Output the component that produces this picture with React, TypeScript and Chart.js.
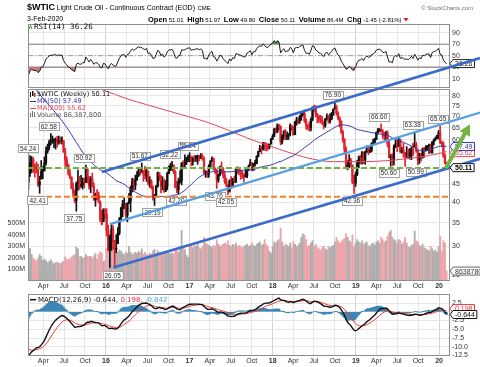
import { useEffect, useRef } from 'react';
import { Chart, registerables } from 'chart.js';

Chart.register(...registerables);

const SANS = "'Liberation Sans', Arial, sans-serif";
const DEJAVU = "'DejaVu Sans', sans-serif";
const MONO = "'DejaVu Sans Mono', monospace";

// ---------------- header / last values ----------------
const symbol = '$WTIC';
const title = 'Light Crude Oil - Continuous Contract (EOD)';
const exchange = 'CME';
const asOf = '3-Feb-2020';
const quoteLabels = ['Open', 'High', 'Low', 'Close', 'Volume', 'Chg'];
const quoteValues = ['51.01', '51.97', '49.80', '50.11', '86.4M', '-1.45 (-2.81%)'];
const lastRsi = 36.26;
const lastMa50 = 57.49;
const lastMa200 = 55.62;
const lastClose = 50.11;
const lastVolume = 86387800;
const lastMacd = -0.644;
const lastSignal = 0.198;
const lastHist = -0.842;

// ---------------- weekly price data (week starting Mondays, from 26-Jan-2015) ----------------
const priorCloses = [93.96, 92.72, 94.37, 96.64, 97.49, 99.88, 100.3, 102.2, 102.59, 102.58, 98.89, 99.46, 101.67, 101.14, 103.74, 104.3, 100.6, 99.76, 99.99, 102.02, 104.35, 102.71, 102.66, 106.91, 107.26, 105.74, 103.77, 100.83, 103.13, 102.09, 97.88, 97.65, 97.35, 93.65, 95.96, 93.29, 92.27, 92.41, 93.54, 89.74, 85.82, 82.75, 81.01, 80.54, 78.65, 75.82, 76.51, 66.15, 65.84, 57.81, 57.13, 54.73, 52.69, 48.36, 48.69, 45.59];

const closes2015 = [48.24, 51.69, 52.78, 50.34, 49.76, 49.61, 44.84, 45.72, 48.87, 49.14, 51.64, 55.74, 57.15, 59.15, 59.39, 59.69, 59.72, 60.3, 59.13, 59.96, 59.61, 59.63, 55.52, 52.74, 50.89, 48.14, 47.12, 43.87, 42.5, 40.45, 45.22, 46.05, 44.63, 44.68, 45.7, 45.54, 49.63, 47.26, 44.6, 46.59, 44.29, 40.74, 41.9, 41.71, 39.97, 35.62, 34.73, 38.1, 37.04];
const highs2015 = [48.29, 54.24, 53.85, 53.56, 51.28, 52.0, 51.28, 47.4, 52.48, 50.47, 53.73, 57.42, 58.41, 60.0, 62.58, 61.6, 60.57, 60.85, 61.4, 61.57, 61.2, 61.26, 59.69, 56.85, 53.76, 51.36, 49.46, 47.22, 45.33, 43.27, 45.62, 49.35, 47.39, 47.71, 46.88, 46.8, 50.92, 49.63, 47.28, 47.27, 48.36, 45.42, 42.49, 43.46, 42.77, 40.4, 37.98, 38.39, 38.39];
const lows2015 = [43.58, 47.36, 48.47, 48.57, 47.1, 48.4, 44.37, 42.41, 46.53, 46.65, 49.0, 51.05, 55.05, 56.26, 58.06, 58.7, 57.1, 56.51, 57.31, 58.36, 58.62, 58.34, 55.35, 50.6, 50.1, 47.72, 46.68, 43.61, 41.35, 39.86, 37.75, 43.21, 43.5, 44.09, 43.59, 43.95, 45.46, 45.36, 43.58, 42.58, 44.17, 40.51, 38.99, 40.56, 39.8, 35.24, 34.53, 35.29, 36.04];

const closes2016 = [33.16, 29.42, 32.19, 33.62, 30.89, 29.44, 29.64, 32.78, 35.92, 38.5, 39.44, 39.46, 36.79, 39.72, 40.36, 43.73, 45.92, 44.66, 46.21, 47.75, 49.33, 48.62, 49.07, 47.98, 47.64, 48.99, 45.41, 45.95, 44.19, 41.6, 41.8, 44.49, 48.52, 47.64, 44.44, 45.88, 43.03, 44.48, 48.24, 50.35, 50.35, 50.85, 48.7, 44.07, 43.41, 45.69, 46.06, 51.68, 51.5, 51.9, 53.02, 53.72];
const highs2016 = [38.39, 34.5, 32.35, 34.82, 34.4, 31.24, 32.4, 33.93, 36.25, 38.72, 40.54, 41.2, 39.72, 39.9, 42.42, 44.49, 46.78, 46.67, 47.75, 48.86, 50.21, 50.05, 51.67, 49.25, 50.52, 49.69, 49.05, 47.27, 46.35, 44.56, 42.14, 44.63, 48.75, 48.5, 47.54, 47.24, 46.51, 46.08, 48.68, 50.74, 51.6, 52.22, 51.05, 49.18, 45.95, 46.8, 49.2, 51.78, 52.42, 54.51, 53.65, 54.37];
const lows2016 = [32.1, 29.13, 26.19, 29.25, 29.55, 26.05, 28.85, 30.56, 32.36, 35.36, 36.43, 38.32, 35.76, 35.24, 39.7, 37.61, 42.77, 43.03, 43.4, 46.23, 47.28, 47.75, 48.57, 45.83, 46.57, 45.83, 44.77, 44.07, 43.61, 40.57, 39.19, 41.36, 44.14, 46.0, 42.52, 43.36, 42.67, 42.88, 43.44, 48.2, 49.14, 49.2, 48.2, 44.06, 42.56, 42.2, 45.34, 44.82, 49.9, 50.31, 51.07, 52.08];

const closes2017 = [53.99, 52.37, 53.22, 53.17, 53.83, 53.86, 53.4, 53.99, 53.33, 48.49, 48.78, 47.97, 50.6, 52.24, 53.18, 49.62, 49.33, 46.22, 47.84, 50.33, 49.8, 47.66, 45.83, 44.74, 43.01, 46.04, 44.23, 46.54, 45.77, 49.71, 49.58, 48.82, 48.51, 47.87, 47.29, 47.48, 49.89, 50.66, 51.67, 49.29, 51.45, 51.47, 53.9, 55.64, 56.74, 56.55, 58.95, 58.36, 57.36, 57.3, 58.47, 60.42];
const highs2017 = [55.24, 54.0, 53.75, 54.33, 54.2, 54.39, 54.25, 54.94, 54.78, 53.76, 49.18, 49.0, 51.08, 52.49, 53.76, 53.37, 50.07, 49.47, 48.09, 50.65, 52.0, 50.11, 48.66, 46.76, 44.89, 46.35, 47.32, 46.75, 47.44, 49.81, 50.43, 50.22, 49.42, 49.0, 48.14, 49.42, 50.26, 51.0, 52.86, 51.88, 51.56, 52.66, 54.2, 55.78, 57.92, 57.63, 59.05, 59.05, 58.72, 58.47, 58.4, 60.51];
const lows2017 = [52.11, 50.71, 50.91, 52.04, 52.2, 51.22, 52.31, 53.12, 52.59, 48.22, 47.09, 47.01, 47.06, 49.83, 52.13, 49.32, 48.18, 43.76, 45.55, 47.5, 48.17, 46.87, 45.2, 44.3, 42.05, 42.72, 43.8, 44.25, 45.4, 45.46, 48.15, 47.84, 46.46, 46.71, 45.58, 47.1, 46.96, 49.13, 50.78, 49.1, 49.25, 50.71, 51.35, 53.7, 55.62, 54.76, 56.17, 56.09, 55.84, 56.13, 56.64, 58.46];

const closes2018 = [61.44, 64.3, 63.37, 66.14, 65.45, 59.2, 61.68, 63.55, 61.25, 62.04, 62.34, 65.88, 64.94, 62.06, 67.39, 68.38, 68.1, 69.72, 70.7, 71.28, 67.88, 65.81, 65.74, 65.06, 68.58, 74.15, 73.8, 71.01, 70.46, 68.69, 68.49, 67.63, 65.91, 68.72, 69.8, 67.75, 68.99, 70.78, 73.25, 74.34, 71.34, 69.12, 67.59, 63.14, 60.19, 56.46, 50.42, 50.93, 52.61, 51.2, 45.59, 45.33, 47.96];
const highs2018 = [62.21, 64.77, 64.89, 66.66, 66.44, 65.8, 62.12, 63.73, 64.24, 63.3, 62.52, 66.66, 66.04, 65.49, 67.71, 69.56, 69.31, 70.45, 71.89, 72.3, 72.9, 68.8, 66.27, 67.55, 69.25, 74.46, 75.27, 75.0, 71.36, 70.3, 70.43, 69.92, 67.66, 69.0, 71.08, 70.45, 71.24, 71.8, 73.45, 76.9, 75.33, 72.21, 69.81, 68.05, 63.92, 60.57, 57.35, 52.45, 54.55, 53.27, 50.99, 47.71, 48.75];
const lows2018 = [60.1, 61.28, 62.8, 62.88, 64.2, 58.07, 58.45, 60.31, 60.05, 60.15, 60.2, 61.56, 64.0, 61.84, 62.08, 66.05, 66.64, 66.84, 68.14, 70.12, 67.2, 64.36, 64.08, 63.59, 63.61, 67.95, 72.23, 69.62, 67.03, 67.25, 67.01, 66.4, 64.43, 65.15, 68.4, 66.9, 66.89, 68.43, 70.38, 73.4, 70.46, 68.47, 65.33, 62.62, 59.27, 54.75, 50.15, 49.41, 50.08, 50.35, 45.14, 42.36, 44.35];

const closes2019 = [51.59, 53.8, 53.69, 55.26, 52.72, 55.59, 57.26, 55.8, 56.07, 58.52, 59.04, 60.14, 63.08, 63.89, 64.0, 63.3, 61.94, 61.66, 62.76, 58.63, 53.5, 53.99, 52.51, 57.43, 58.47, 57.51, 60.21, 55.63, 56.2, 55.66, 54.5, 54.87, 54.17, 55.1, 56.52, 54.85, 58.09, 55.91, 52.81, 54.7, 53.78, 56.66, 56.2, 57.24, 57.72, 57.77, 55.17, 59.2, 60.07, 60.44, 61.72, 63.05];
const highs2019 = [52.58, 54.05, 54.24, 55.75, 55.48, 55.85, 57.81, 57.73, 57.31, 58.95, 60.39, 60.7, 63.2, 64.77, 64.6, 66.6, 64.24, 63.0, 63.5, 63.71, 59.45, 54.62, 54.84, 58.15, 59.93, 59.85, 60.94, 60.35, 57.23, 58.82, 55.33, 57.47, 56.6, 56.77, 57.39, 58.76, 63.38, 59.17, 56.05, 55.09, 54.94, 56.95, 57.15, 57.88, 57.9, 58.44, 58.46, 59.4, 60.38, 61.2, 61.94, 63.84];
const lows2019 = [47.56, 50.15, 51.33, 51.23, 51.41, 51.23, 55.28, 54.52, 55.22, 55.5, 58.2, 58.23, 60.15, 62.3, 63.32, 63.0, 60.6, 60.04, 60.23, 57.34, 53.38, 50.6, 50.72, 51.01, 57.05, 55.63, 57.41, 55.22, 55.06, 53.59, 50.52, 53.5, 53.14, 52.97, 52.81, 54.13, 57.36, 55.38, 50.99, 51.44, 52.3, 53.28, 53.53, 55.76, 56.05, 55.0, 55.15, 55.13, 58.03, 59.76, 60.49, 60.38];

const closes2020 = [59.04, 58.54, 54.19, 51.56, 50.11];
const highs2020 = [65.65, 59.6, 59.28, 54.77, 51.97];
const lows2020 = [58.55, 57.36, 53.53, 51.31, 49.8];

// weekly volume, millions
const volumes2015 = [270, 285, 230, 200, 185, 175, 200, 230, 215, 180, 190, 175, 160, 170, 185, 165, 150, 160, 165, 155, 150, 160, 175, 210, 190, 185, 195, 210, 220, 230, 295, 280, 210, 215, 200, 205, 230, 215, 210, 215, 200, 220, 240, 190, 235, 255, 245, 170, 175];
const volumes2016 = [280, 300, 330, 270, 300, 340, 260, 250, 270, 260, 240, 230, 250, 240, 300, 250, 230, 240, 250, 240, 260, 250, 280, 235, 250, 230, 225, 240, 235, 265, 275, 235, 265, 250, 245, 235, 250, 245, 260, 255, 235, 245, 235, 280, 265, 250, 300, 440, 300, 275, 225, 205];
const volumes2017 = [300, 320, 290, 310, 300, 320, 290, 280, 300, 380, 330, 320, 310, 300, 290, 310, 300, 360, 320, 300, 310, 320, 330, 320, 350, 310, 300, 320, 310, 330, 300, 310, 300, 290, 300, 310, 320, 300, 310, 330, 310, 300, 320, 330, 340, 310, 320, 360, 320, 300, 260, 240];
const volumes2018 = [300, 340, 330, 350, 360, 460, 340, 300, 320, 310, 300, 330, 290, 340, 320, 300, 310, 330, 380, 410, 400, 360, 300, 310, 330, 350, 300, 320, 290, 280, 270, 290, 300, 280, 270, 300, 290, 300, 310, 340, 380, 350, 330, 340, 360, 370, 410, 380, 350, 340, 400, 300, 330];
const volumes2019 = [360, 340, 330, 350, 320, 330, 340, 310, 300, 320, 330, 310, 340, 350, 330, 380, 360, 340, 350, 390, 420, 440, 380, 360, 350, 330, 360, 350, 320, 340, 380, 330, 300, 290, 310, 320, 435, 350, 340, 310, 300, 320, 290, 280, 270, 260, 300, 280, 260, 270, 250, 300];
const volumes2020 = [390, 260, 350, 330, 86.3878];

// 200-week moving average, read at quarter ends
const ma200Dates = [[2015, 7, 27], [2015, 9, 28], [2015, 12, 28], [2016, 3, 28], [2016, 6, 27], [2016, 9, 26], [2016, 12, 26], [2017, 3, 27], [2017, 6, 26], [2017, 9, 25], [2017, 12, 25], [2018, 3, 26], [2018, 6, 25], [2018, 9, 24], [2018, 12, 31], [2019, 3, 25], [2019, 6, 24], [2019, 9, 30], [2019, 12, 30], [2020, 2, 3]];
const ma200Values = [88.5, 86.4, 82.7, 78.6, 75.5, 72.6, 69.9, 67.1, 63.7, 60.3, 57.5, 55.0, 53.0, 52.1, 52.1, 52.2, 52.7, 53.6, 54.9, 55.62];

// annotated pivots
const pivotDates = [[2015, 2, 2], [2015, 3, 16], [2015, 5, 4], [2015, 8, 24], [2015, 10, 5], [2016, 2, 8], [2016, 6, 6], [2016, 8, 1], [2016, 10, 17], [2016, 11, 14], [2017, 1, 2], [2017, 5, 1], [2017, 6, 19], [2018, 10, 1], [2018, 12, 24], [2019, 4, 22], [2019, 6, 3], [2019, 9, 16], [2019, 9, 30], [2020, 1, 6]];
const pivotValues = [54.24, 42.41, 62.58, 37.75, 50.92, 26.05, 51.67, 39.19, 52.22, 42.2, 55.24, 43.76, 42.05, 76.9, 42.36, 66.6, 50.6, 63.38, 50.99, 65.65];
const pivotIsHigh = [true, false, true, false, true, false, true, false, true, false, true, false, false, true, false, true, false, true, false, true];

// drawn trend channel: [startDate, startPrice, endDate, endPrice]
const trendStartDates = [[2015, 12, 14], [2016, 1, 19], [2016, 2, 3]];
const trendStartPrices = [48.7, 34.7, 26.2];
const trendEndDates = [[2020, 6, 29], [2020, 6, 29], [2020, 6, 29]];
const trendEndPrices = [102.2, 71.7, 53.1];
const supportLevels = [50.0, 41.5];
const arrowStart = [[2020, 1, 31], 50.0];
const arrowEnd = [[2020, 5, 16], 66.5];

// axis ticks
const xTickDates = [[2015, 4, 1], [2015, 7, 1], [2015, 10, 1], [2016, 1, 1], [2016, 4, 1], [2016, 7, 1], [2016, 10, 1], [2017, 1, 1], [2017, 4, 1], [2017, 7, 1], [2017, 10, 1], [2018, 1, 1], [2018, 4, 1], [2018, 7, 1], [2018, 10, 1], [2019, 1, 1], [2019, 4, 1], [2019, 7, 1], [2019, 10, 1], [2020, 1, 1]];
const xTickLabels = ['Apr', 'Jul', 'Oct', '16', 'Apr', 'Jul', 'Oct', '17', 'Apr', 'Jul', 'Oct', '18', 'Apr', 'Jul', 'Oct', '19', 'Apr', 'Jul', 'Oct', '20'];
const priceTicks = [25, 30, 35, 40, 45, 50, 55, 60, 65, 70, 75, 80];
const volumeTicks = [100, 200, 300, 400, 500];
const rsiTicks = [10, 30, 50, 70, 90];
const macdTicks = [2.5, 0, -2.5, -5, -7.5, -10, -12.5];

// ---------------- derived ----------------
const day = (y: number, m: number, d: number) => Date.UTC(y, m - 1, d) / 86400000;
const dayOf = (a: number[]) => day(a[0], a[1], a[2]);

const closes = [...closes2015, ...closes2016, ...closes2017, ...closes2018, ...closes2019, ...closes2020];
const highs = [...highs2015, ...highs2016, ...highs2017, ...highs2018, ...highs2019, ...highs2020];
const lows = [...lows2015, ...lows2016, ...lows2017, ...lows2018, ...lows2019, ...lows2020];
const volumes = [...volumes2015, ...volumes2016, ...volumes2017, ...volumes2018, ...volumes2019, ...volumes2020];
const firstWeek = day(2015, 1, 26);
const dates = closes.map((_, i) => firstWeek + 7 * i);
const opens = closes.map((_, i) => (i === 0 ? priorCloses[priorCloses.length - 1] : closes[i - 1]));

const allCloses = [...priorCloses, ...closes];
const P = priorCloses.length;

function sma(arr: number[], n: number, idx: number) {
  let s = 0;
  for (let j = idx - n + 1; j <= idx; j++) s += arr[j];
  return s / n;
}
function ema(arr: number[], n: number) {
  const k = 2 / (n + 1);
  const out = [arr[0]];
  for (let i = 1; i < arr.length; i++) out.push(arr[i] * k + out[i - 1] * (1 - k));
  return out;
}
function rsiCalc(arr: number[], n: number) {
  const out = new Array(arr.length).fill(NaN);
  let ag = 0, al = 0;
  for (let i = 1; i <= n; i++) {
    const ch = arr[i] - arr[i - 1];
    if (ch > 0) ag += ch; else al -= ch;
  }
  ag /= n; al /= n;
  out[n] = 100 - 100 / (1 + ag / al);
  for (let i = n + 1; i < arr.length; i++) {
    const ch = arr[i] - arr[i - 1];
    ag = (ag * (n - 1) + Math.max(ch, 0)) / n;
    al = (al * (n - 1) + Math.max(-ch, 0)) / n;
    out[i] = al === 0 ? 100 : 100 - 100 / (1 + ag / al);
  }
  return out;
}

const ma50 = closes.map((_, i) => sma(allCloses, 50, P + i));
const rsiSeries = rsiCalc(allCloses, 14).slice(P);
const e12 = ema(allCloses, 12);
const e26 = ema(allCloses, 26);
const macdAll = e12.map((v, i) => v - e26[i]);
const sigAll = ema(macdAll, 9);
const macdSeries = macdAll.slice(P);
const signalSeries = sigAll.slice(P);
const histSeries = macdSeries.map((v, i) => v - signalSeries[i]);

// ---------------- layout constants ----------------
const X_MIN = day(2016, 1, 1) - 342;
const X_MAX = day(2020, 1, 1) + 48;
const PRICE_MIN = 23.98;
const PRICE_MAX = 83.58;
const VOL_MAX = 1670;
const RSI_MIN = -6.2;
const RSI_MAX = 105.1;
const MACD_MIN = -12.64;
const MACD_MAX = 5.03;

const xTickValues = xTickDates.map(dayOf);
const xLabelMap = new Map<number, string>();
xTickValues.forEach((v, i) => xLabelMap.set(v, xTickLabels[i]));
const isYear = (v: number) => /^\d\d$/.test(xLabelMap.get(v) || '');

function baseOptions(padding: any) {
  return {
    responsive: false,
    maintainAspectRatio: false,
    animation: false,
    devicePixelRatio: 1,
    events: [],
    layout: { padding },
    plugins: { legend: { display: false }, tooltip: { enabled: false } },
  };
}

function xAxis(showLabels: boolean, height: number) {
  return {
    type: 'linear',
    min: X_MIN,
    max: X_MAX,
    offset: false,
    afterBuildTicks: (s: any) => { s.ticks = xTickValues.map((v) => ({ value: v })); },
    afterFit: (s: any) => { s.height = height; },
    ticks: {
      display: showLabels,
      autoSkip: false,
      maxRotation: 0,
      minRotation: 0,
      padding: 1,
      color: '#333',
      font: (c: any) => ({ family: SANS, size: 7, weight: c.tick && isYear(c.tick.value) ? 'bold' : 'normal' }),
      callback: (v: number) => xLabelMap.get(v) || '',
    },
    grid: {
      color: (c: any) => (c.tick && isYear(c.tick.value) ? '#d4d4d4' : '#e6e6e6'),
      drawTicks: false,
      offset: false,
    },
    border: { display: false },
  };
}

function yAxis(type: string, position: string, min: number, max: number, ticks: number[], fmt: (v: number) => string, width: number, grid: boolean) {
  return {
    type,
    position,
    min,
    max,
    afterBuildTicks: (s: any) => { s.ticks = ticks.map((v) => ({ value: v })); },
    afterFit: (s: any) => { s.width = width; },
    ticks: { autoSkip: false, padding: position === 'right' ? 2 : 3, color: '#333', font: { family: SANS, size: 7 }, callback: (v: number) => fmt(v) },
    grid: { display: grid, color: '#e6e6e6', drawTicks: false },
    border: { display: false },
  };
}

const framePlugin = {
  id: 'frame',
  afterDatasetsDraw(chart: any) {
    const { ctx, chartArea: a } = chart;
    ctx.save();
    ctx.strokeStyle = '#8e8e8e';
    ctx.lineWidth = 1;
    ctx.strokeRect(Math.round(a.left) + 0.5, Math.round(a.top) + 0.5, Math.round(a.right - a.left) - 1, Math.round(a.bottom - a.top) - 1);
    ctx.restore();
  },
};

function valueBox(ctx: any, x: number, y: number, text: string, border: string, color: string, bold = false) {
  ctx.font = `${bold ? 'bold ' : ''}7px ${SANS}`;
  const w = ctx.measureText(text).width + 4;
  const h = 8;
  ctx.beginPath();
  ctx.moveTo(x, y);
  ctx.lineTo(x + 3, y - h / 2);
  ctx.lineTo(x + 3 + w, y - h / 2);
  ctx.lineTo(x + 3 + w, y + h / 2);
  ctx.lineTo(x + 3, y + h / 2);
  ctx.closePath();
  ctx.fillStyle = '#fff';
  ctx.fill();
  ctx.strokeStyle = border;
  ctx.lineWidth = 1;
  ctx.stroke();
  ctx.fillStyle = color;
  ctx.textAlign = 'left';
  ctx.textBaseline = 'middle';
  ctx.fillText(text, x + 5, y + 0.5);
}

function pivotBox(ctx: any, cx: number, cy: number, text: string) {
  ctx.font = `6.5px ${SANS}`;
  const w = ctx.measureText(text).width + 4;
  const h = 8;
  const left = cx - w / 2;
  ctx.fillStyle = '#fff';
  ctx.fillRect(left, cy - h / 2, w, h);
  ctx.strokeStyle = '#a3a3a3';
  ctx.lineWidth = 1;
  ctx.strokeRect(Math.round(left) + 0.5, Math.round(cy - h / 2) + 0.5, Math.round(w), h);
  ctx.fillStyle = '#2a2a2a';
  ctx.textAlign = 'left';
  ctx.textBaseline = 'middle';
  ctx.fillText(text, left + 2, cy + 0.5);
}

const rsiOverlay = {
  id: 'rsiOverlay',
  afterDraw(chart: any) {
    const { ctx } = chart;
    const ys = chart.scales.y;
    ctx.save();
    ctx.textBaseline = 'middle';
    ctx.textAlign = 'left';
    // header line 1
    ctx.fillStyle = '#000';
    ctx.font = `bold 9px ${SANS}`;
    ctx.fillText(symbol, 27, 7.5);
    let x = 27 + ctx.measureText(symbol).width + 1.5;
    ctx.font = `7px ${SANS}`;
    ctx.fillText(title, x, 8);
    x += ctx.measureText(title).width + 2.5;
    ctx.font = `6px ${SANS}`;
    ctx.fillText(exchange, x, 8.5);
    ctx.fillStyle = '#6e6e6e';
    ctx.textAlign = 'right';
    ctx.fillText('\u00A9 StockCharts.com', 473, 8);
    ctx.textAlign = 'left';
    // header line 2
    ctx.fillStyle = '#000';
    ctx.font = `7px ${SANS}`;
    ctx.fillText(asOf, 27, 19.5);
    x = 148;
    quoteLabels.forEach((lab, i) => {
      ctx.font = `bold 7.5px ${SANS}`;
      ctx.fillText(lab, x, 19.5);
      x += ctx.measureText(lab).width + 1.5;
      ctx.font = `6px ${SANS}`;
      ctx.fillText(quoteValues[i], x, 20);
      x += ctx.measureText(quoteValues[i]).width + 3.5;
    });
    ctx.fillStyle = '#d8202a';
    ctx.beginPath();
    ctx.moveTo(x - 1.5, 18);
    ctx.lineTo(x + 3.5, 18);
    ctx.lineTo(x + 1, 21.5);
    ctx.closePath();
    ctx.fill();
    // RSI legend
    ctx.strokeStyle = '#2f8a2f';
    ctx.lineWidth = 1;
    ctx.beginPath();
    ctx.moveTo(29, 29);
    ctx.lineTo(30.5, 25.5);
    ctx.lineTo(32, 29);
    ctx.stroke();
    ctx.fillStyle = '#111';
    ctx.font = `7.5px ${MONO}`;
    ctx.fillText(`RSI(14) ${lastRsi.toFixed(2)}`, 34, 27.5);
    // value box
    valueBox(ctx, chart.chartArea.right, ys.getPixelForValue(lastRsi), lastRsi.toFixed(2), '#222', '#111');
    ctx.restore();
  },
};

const mainOverlay = {
  id: 'mainOverlay',
  afterDraw(chart: any) {
    const { ctx, chartArea: a } = chart;
    const xs = chart.scales.x;
    const ys = chart.scales.y;
    const vs = chart.scales.vol;
    const px = (d: number) => xs.getPixelForValue(d);
    const py = (v: number) => ys.getPixelForValue(v);
    ctx.save();
    // horizontal support / resistance
    const supportColors = ['#6db33f', '#f2822a'];
    supportLevels.forEach((lv, i) => {
      ctx.strokeStyle = supportColors[i];
      ctx.lineWidth = 2;
      ctx.setLineDash([6, 3]);
      ctx.beginPath();
      ctx.moveTo(a.left, py(lv));
      ctx.lineTo(a.right, py(lv));
      ctx.stroke();
    });
    ctx.setLineDash([]);
    // pivot labels
    pivotDates.forEach((dt, i) => {
      const cx = px(dayOf(dt)) - 2;
      const cy = py(pivotValues[i]) + (pivotIsHigh[i] ? -7 : 7);
      pivotBox(ctx, cx, cy, pivotValues[i].toFixed(2));
    });
    // trend channel
    const trendColors = ['#3a6cc8', '#58a0e2', '#3a6cc8'];
    const trendWidths = [2.6, 2.2, 2.6];
    trendStartDates.forEach((sd, i) => {
      ctx.strokeStyle = trendColors[i];
      ctx.lineWidth = trendWidths[i];
      ctx.beginPath();
      ctx.moveTo(px(dayOf(sd)), py(trendStartPrices[i]));
      ctx.lineTo(px(dayOf(trendEndDates[i])), py(trendEndPrices[i]));
      ctx.stroke();
    });
    // legend
    ctx.textBaseline = 'middle';
    ctx.textAlign = 'left';
    ctx.fillStyle = '#111';
    ctx.fillRect(30, 92, 1, 5);
    ctx.fillRect(32, 91, 1.5, 5);
    ctx.fillStyle = '#d8202a';
    ctx.fillRect(34, 93, 1.5, 4);
    ctx.fillStyle = '#111';
    ctx.font = `6.6px ${DEJAVU}`;
    ctx.fillText(`${symbol} (Weekly) ${lastClose.toFixed(2)}`, 37, 94.5);
    ctx.lineWidth = 1;
    ctx.strokeStyle = '#3535a8';
    ctx.beginPath(); ctx.moveTo(30, 101.5); ctx.lineTo(36, 101.5); ctx.stroke();
    ctx.fillStyle = '#3535a8';
    ctx.fillText(`MA(50) ${lastMa50.toFixed(2)}`, 37, 101.5);
    ctx.strokeStyle = '#e0465c';
    ctx.beginPath(); ctx.moveTo(30, 108.5); ctx.lineTo(36, 108.5); ctx.stroke();
    ctx.fillStyle = '#e0465c';
    ctx.fillText(`MA(200) ${lastMa200.toFixed(2)}`, 37, 108.5);
    ctx.fillStyle = '#777';
    ctx.fillRect(30, 113, 1, 4);
    ctx.fillRect(32, 111, 1, 6);
    ctx.fillRect(34, 112, 1, 5);
    ctx.fillStyle = '#555';
    ctx.fillText(`Volume ${lastVolume.toLocaleString('en-US')}`, 37, 115.5);
    // right value boxes
    valueBox(ctx, a.right, vs.getPixelForValue(lastVolume / 1e6), String(lastVolume), '#666', '#333');
    valueBox(ctx, a.right, py(lastMa200) + 1, lastMa200.toFixed(2), '#e0465c', '#e0465c');
    valueBox(ctx, a.right, py(lastMa50), lastMa50.toFixed(2), '#3535a8', '#3535a8');
    // arrow
    const x1 = px(dayOf(arrowStart[0] as number[]));
    const y1 = py(arrowStart[1] as number);
    const x2 = px(dayOf(arrowEnd[0] as number[]));
    const y2 = py(arrowEnd[1] as number);
    const dx = x2 - x1, dy = y2 - y1, len = Math.hypot(dx, dy);
    const ux = dx / len, uy = dy / len, nx = -uy, ny = ux;
    const headLen = 11, headW = 6, shaftW = 2;
    const bx = x2 - ux * headLen, by = y2 - uy * headLen;
    ctx.fillStyle = '#74b444';
    ctx.beginPath();
    ctx.moveTo(x1 + nx * shaftW, y1 + ny * shaftW);
    ctx.lineTo(bx + nx * shaftW, by + ny * shaftW);
    ctx.lineTo(bx + nx * headW, by + ny * headW);
    ctx.lineTo(x2, y2);
    ctx.lineTo(bx - nx * headW, by - ny * headW);
    ctx.lineTo(bx - nx * shaftW, by - ny * shaftW);
    ctx.lineTo(x1 - nx * shaftW, y1 - ny * shaftW);
    ctx.closePath();
    ctx.fill();
    valueBox(ctx, a.right, py(lastClose), lastClose.toFixed(2), '#111', '#000', true);
    ctx.restore();
  },
};

const macdOverlay = {
  id: 'macdOverlay',
  afterDraw(chart: any) {
    const { ctx, chartArea: a } = chart;
    const ys = chart.scales.y;
    ctx.save();
    ctx.textBaseline = 'middle';
    ctx.textAlign = 'left';
    const ly = a.top + 5.5;
    ctx.strokeStyle = '#111';
    ctx.lineWidth = 1.5;
    ctx.beginPath(); ctx.moveTo(30, ly); ctx.lineTo(36, ly); ctx.stroke();
    ctx.font = `7px ${DEJAVU}`;
    let x = 38;
    const parts = [
      [`MACD(12,26,9) ${lastMacd.toFixed(3)}, `, '#111'],
      [`${lastSignal.toFixed(3)}, `, '#e8303a'],
      [lastHist.toFixed(3), '#4aa7d8'],
    ];
    parts.forEach(([t, c]) => {
      ctx.fillStyle = c;
      ctx.fillText(t, x, ly);
      x += ctx.measureText(t).width;
    });
    valueBox(ctx, a.right, ys.getPixelForValue(lastSignal) - 2.5, lastSignal.toFixed(3), '#e8303a', '#e8303a');
    valueBox(ctx, a.right, ys.getPixelForValue(lastMacd) + 0.5, lastMacd.toFixed(3), '#111', '#111');
    ctx.restore();
  },
};

function buildRsi(canvas: HTMLCanvasElement) {
  const pts = dates.map((x, i) => ({ x, y: rsiSeries[i] }));
  const level = (v: number) => [{ x: X_MIN, y: v }, { x: X_MAX, y: v }];
  return new Chart(canvas, {
    type: 'line',
    data: {
      datasets: [
        { data: pts, borderColor: '#1a1a1a', borderWidth: 1, pointRadius: 0, fill: { target: { value: 30 }, above: 'rgba(0,0,0,0)', below: 'rgba(200,90,90,0.85)' }, order: 1 },
        { data: pts, borderColor: 'rgba(0,0,0,0)', borderWidth: 0, pointRadius: 0, fill: { target: { value: 70 }, above: 'rgba(60,140,60,0.9)', below: 'rgba(0,0,0,0)' }, order: 2 },
        { data: level(70), borderColor: '#8a8a8a', borderWidth: 1, pointRadius: 0, fill: false, order: 3 },
        { data: level(30), borderColor: '#8a8a8a', borderWidth: 1.2, pointRadius: 0, fill: false, order: 3 },
        { data: level(50), borderColor: '#9a9a9a', borderWidth: 1, borderDash: [5, 2, 1, 2], pointRadius: 0, fill: false, order: 3 },
      ],
    },
    options: {
      ...baseOptions({ left: 28, right: 0, top: 24, bottom: 7 }),
      scales: {
        x: xAxis(false, 0),
        y: yAxis('linear', 'right', RSI_MIN, RSI_MAX, rsiTicks, (v) => String(v), 30, true),
      },
    },
    plugins: [framePlugin, rsiOverlay],
  } as any);
}

function buildMain(canvas: HTMLCanvasElement) {
  const up = closes.map((c, i) => c >= opens[i]);
  const candleColors = up.map((u) => (u ? '#111111' : '#e2222d'));
  const volColors = up.map((u) => (u ? 'rgba(165,165,165,0.9)' : 'rgba(234,155,162,0.9)'));
  const wick = dates.map((x, i) => ({ x, y: [lows[i], highs[i]] }));
  const body = dates.map((x, i) => {
    let lo = Math.max(Math.min(opens[i], closes[i]), lows[i]);
    let hi = Math.min(Math.max(opens[i], closes[i]), highs[i]);
    if (hi < lo) hi = lo;
    return { x, y: [lo, hi] };
  });
  const vol = dates.map((x, i) => ({ x, y: volumes[i] }));
  const ma50Pts = dates.map((x, i) => ({ x, y: ma50[i] }));
  const ma200Pts = ma200Dates.map((dt, i) => ({ x: dayOf(dt), y: ma200Values[i] }));
  return new Chart(canvas, {
    type: 'bar',
    data: {
      datasets: [
        { type: 'line', data: ma50Pts, borderColor: '#3535a8', borderWidth: 1, pointRadius: 0, yAxisID: 'y', order: 1 },
        { type: 'line', data: ma200Pts, borderColor: '#e0465c', borderWidth: 1, pointRadius: 0, cubicInterpolationMode: 'monotone', yAxisID: 'y', order: 2 },
        { type: 'bar', data: body, backgroundColor: candleColors, barThickness: 1.6, minBarLength: 1, grouped: false, yAxisID: 'y', order: 3 },
        { type: 'bar', data: wick, backgroundColor: candleColors, barThickness: 1, grouped: false, yAxisID: 'y', order: 4 },
        { type: 'bar', data: vol, backgroundColor: volColors, barThickness: 1.2, grouped: false, yAxisID: 'vol', order: 10 },
      ],
    },
    options: {
      ...baseOptions({ left: 0, right: 0, top: 89, bottom: 0 }),
      scales: {
        x: xAxis(true, 12),
        y: yAxis('logarithmic', 'right', PRICE_MIN, PRICE_MAX, priceTicks, (v) => String(v), 30, true),
        vol: yAxis('linear', 'left', 0, VOL_MAX, volumeTicks, (v) => `${v}M`, 28, false),
      },
    },
    plugins: [framePlugin, mainOverlay],
  } as any);
}

function buildMacd(canvas: HTMLCanvasElement) {
  const hist = dates.map((x, i) => ({ x, y: histSeries[i] }));
  const macd = dates.map((x, i) => ({ x, y: macdSeries[i] }));
  const sig = dates.map((x, i) => ({ x, y: signalSeries[i] }));
  return new Chart(canvas, {
    type: 'bar',
    data: {
      datasets: [
        { type: 'line', data: macd, borderColor: '#111', borderWidth: 1.4, pointRadius: 0, order: 1 },
        { type: 'line', data: sig, borderColor: '#ea3a3a', borderWidth: 1, pointRadius: 0, order: 2 },
        { type: 'bar', data: hist, backgroundColor: '#3d86b5', barThickness: 1.7, grouped: false, order: 3 },
      ],
    },
    options: {
      ...baseOptions({ left: 28, right: 0, top: 3, bottom: 0 }),
      scales: {
        x: xAxis(true, 11),
        y: yAxis('linear', 'right', MACD_MIN, MACD_MAX, macdTicks, (v) => v.toFixed(1), 30, true),
      },
    },
    plugins: [framePlugin, macdOverlay],
  } as any);
}

export default function App() {
  const rsiRef = useRef<HTMLCanvasElement>(null);
  const mainRef = useRef<HTMLCanvasElement>(null);
  const macdRef = useRef<HTMLCanvasElement>(null);
  useEffect(() => {
    const charts = [buildRsi(rsiRef.current!), buildMacd(macdRef.current!), buildMain(mainRef.current!)];
    return () => charts.forEach((c) => c.destroy());
  }, []);
  return (
    <div style={{ position: 'fixed', left: 0, top: 0, width: 480, height: 367, background: '#fff', overflow: 'hidden' }}>
      <canvas ref={rsiRef} width={480} height={95} style={{ position: 'absolute', left: 0, top: 0 }} />
      <canvas ref={macdRef} width={480} height={79} style={{ position: 'absolute', left: 0, top: 288 }} />
      <canvas ref={mainRef} width={480} height={293} style={{ position: 'absolute', left: 0, top: 0 }} />
    </div>
  );
}
